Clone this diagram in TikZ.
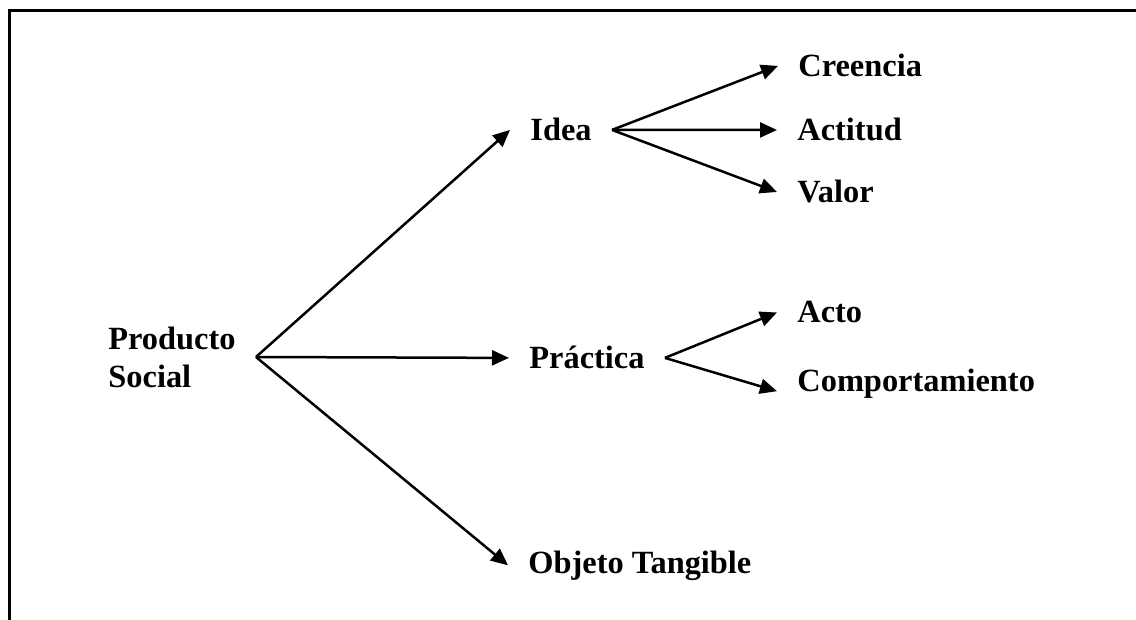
\documentclass[tikz,border=0pt]{standalone}
\usepackage{fontspec}
\setmainfont{Liberation Serif}
\usetikzlibrary{positioning,arrows.meta}

\begin{document}
\begin{tikzpicture}[x=0.5pt, y=-0.5pt]
\tikzstyle{lbl}=[inner xsep = 10pt, inner ysep = 0pt, font=\fontsize{16.2}{19}\selectfont\bfseries]
\tikzstyle{arr}=[line width = 1.25pt, -{Triangle[length=8.5pt, width=7.5pt]}]

\useasboundingbox (0,0) rectangle (1136,620);
\draw[line width = 1.5pt] (1136,11) -| (9,620);

\node[lbl, anchor=west, align=left] (prod) at (88,357) {Producto\\Social};
\node[lbl, anchor=base west] (idea) at (510,141) {Idea};
\node[lbl, anchor=base west] (prac) at (509,369) {Práctica};
\node[lbl, anchor=base west] (obj) at (508,573) {Objeto Tangible};
\node[lbl, anchor=base west] (cre) at (778,77) {Creencia};
\node[lbl, anchor=base west] (act) at (777,141) {Actitud};
\node[lbl, anchor=base west] (val) at (777,203) {Valor};
\node[lbl, anchor=base west] (acto) at (777,323) {Acto};
\node[lbl, anchor=base west] (comp) at (777,392) {Comportamiento};

\draw[arr] (prod.east) -- (idea.west);
\draw[arr] (prod.east) -- (prac.west);
\draw[arr] (prod.east) -- (obj.west);
\draw[arr] (idea.east) -- (cre.west);
\draw[arr] (idea.east) -- (act.west);
\draw[arr] (idea.east) -- (val.west);
\draw[arr] (prac.east) -- (acto.west);
\draw[arr] (prac.east) -- ([yshift=-3.5pt]comp.west);
\end{tikzpicture}
\end{document}
